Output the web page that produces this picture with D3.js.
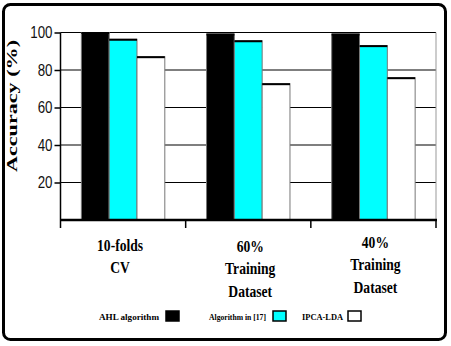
<!DOCTYPE html>
<html>
<head>
<meta charset="utf-8">
<script src="https://cdn.jsdelivr.net/npm/d3@7"></script>
<style>
  body { margin: 0; background: #fff; }
  svg { display: block; }
</style>
</head>
<body>
<div id="chart"></div>
<script>
// data
const categories = ['10-folds CV', '60% Training Dataset', '40% Training Dataset'];
const categoryLines = [['10-folds', 'CV'], ['60%', 'Training', 'Dataset'], ['40%', 'Training', 'Dataset']];
const seriesNames = ['AHL algorithm', 'Algorithm in [17]', 'IPCA-LDA'];
const seriesColors = ['#000000', '#00ffff', '#ffffff'];
const ahlValues = [100, 99.2, 99.2];
const alg17Values = [96.4, 95.6, 93];
const ipcaValues = [87.1, 72.7, 75.9];
const yTicks = [20, 40, 60, 80, 100];

const width = 451;
const height = 346;
const plot = { left: 60.5, right: 436, top: 32.5, bottom: 220 };
const squeeze = 0.8;

const svg = d3.select('#chart').append('svg')
  .attr('width', width)
  .attr('height', height);

// frame
svg.append('rect')
  .attr('x', 3.5).attr('y', 4.5)
  .attr('width', 442).attr('height', 335)
  .attr('rx', 7)
  .attr('fill', '#fff')
  .attr('stroke', '#000')
  .attr('stroke-width', 3);

const x = d3.scaleBand()
  .domain(categories)
  .range([plot.left, plot.right]);

const xSub = d3.scaleBand()
  .domain(seriesNames)
  .range([0, x.bandwidth()])
  .paddingInner(0)
  .paddingOuter(0.75);

const y = d3.scaleLinear()
  .domain([0, 100])
  .range([plot.bottom, plot.top]);

const rows = categories.map((c, i) => ({
  category: c,
  values: [ahlValues[i], alg17Values[i], ipcaValues[i]]
}));

// grid
svg.append('g')
  .selectAll('line')
  .data(yTicks)
  .enter().append('line')
    .attr('x1', plot.left).attr('x2', plot.right)
    .attr('y1', d => y(d)).attr('y2', d => y(d))
    .attr('stroke', '#000')
    .attr('stroke-width', 1.2);

// right border of plot
svg.append('line')
  .attr('x1', plot.right).attr('x2', plot.right)
  .attr('y1', plot.top).attr('y2', plot.bottom)
  .attr('stroke', '#999');

// bars
const groups = svg.selectAll('.group')
  .data(rows)
  .enter().append('g')
    .attr('class', 'group')
    .attr('transform', d => `translate(${x(d.category)},0)`);

groups.selectAll('rect')
  .data(d => d.values.map((v, i) => ({ name: seriesNames[i], value: v, color: seriesColors[i] })))
  .enter().append('rect')
    .attr('x', d => xSub(d.name))
    .attr('y', d => y(d.value))
    .attr('width', xSub.bandwidth())
    .attr('height', d => y(0) - y(d.value))
    .attr('fill', d => d.color)
    .attr('stroke', '#777')
    .attr('stroke-width', 1);

groups.selectAll('.top')
  .data(d => d.values.map((v, i) => ({ name: seriesNames[i], value: v })))
  .enter().append('line')
    .attr('class', 'top')
    .attr('x1', d => xSub(d.name))
    .attr('x2', d => xSub(d.name) + xSub.bandwidth())
    .attr('y1', d => y(d.value) + 0.5)
    .attr('y2', d => y(d.value) + 0.5)
    .attr('stroke', '#000')
    .attr('stroke-width', 2);

// y axis
const yAxis = svg.append('g')
  .attr('transform', `translate(${plot.left},0)`)
  .call(d3.axisLeft(y).tickValues(yTicks).tickSize(6).tickSizeOuter(0).tickPadding(2));
yAxis.select('.domain').remove();
yAxis.selectAll('.tick line').attr('stroke', '#000').attr('stroke-width', 1.5);
yAxis.selectAll('.tick text')
  .attr('font-family', '"Liberation Sans", sans-serif')
  .attr('font-size', 16)
  .attr('fill', '#111')
  .attr('textLength', d => String(d).length * 7.4)
  .attr('lengthAdjust', 'spacingAndGlyphs');

svg.append('line')
  .attr('x1', plot.left).attr('x2', plot.left)
  .attr('y1', plot.top).attr('y2', plot.bottom + 8)
  .attr('stroke', '#000')
  .attr('stroke-width', 1.5);

// x axis
svg.append('line')
  .attr('x1', plot.left).attr('x2', plot.right + 1)
  .attr('y1', plot.bottom).attr('y2', plot.bottom)
  .attr('stroke', '#000')
  .attr('stroke-width', 2.5);

const seps = categories.map(c => x(c)).concat([x(categories[categories.length - 1]) + x.bandwidth()]);
svg.append('g')
  .selectAll('line')
  .data(seps.slice(1))
  .enter().append('line')
    .attr('x1', d => d).attr('x2', d => d)
    .attr('y1', plot.bottom).attr('y2', plot.bottom + 8)
    .attr('stroke', '#000')
    .attr('stroke-width', 1.5);

const labelTop = [251, 252, 248];
const labelShift = [-3, 2, 2];
svg.append('g')
  .attr('transform', `scale(${squeeze},1)`)
  .selectAll('text')
  .data(categories)
  .enter().append('text')
    .attr('y', (d, i) => labelTop[i])
    .attr('text-anchor', 'middle')
    .attr('font-family', '"Liberation Serif", serif')
    .attr('font-weight', 'bold')
    .attr('font-size', 17)
    .each(function(d, i) {
      const cx = (x(d) + x.bandwidth() / 2 + labelShift[i]) / squeeze;
      d3.select(this).selectAll('tspan')
        .data(categoryLines[i])
        .enter().append('tspan')
          .attr('x', cx)
          .attr('dy', (t, j) => j === 0 ? 0 : 22.5)
          .text(t => t);
    });

// y title
svg.append('text')
  .attr('transform', `translate(17,106) rotate(-90)`)
  .attr('text-anchor', 'middle')
  .attr('font-family', '"Liberation Serif", serif')
  .attr('font-weight', 'bold')
  .attr('font-size', 15)
  .attr('textLength', 132)
  .attr('lengthAdjust', 'spacingAndGlyphs')
  .text('Accuracy (%)');

// legend
const legendText = [99, 209, 302];
const legendBox = [166, 273, 348];
const legendTextLen = [60, 57, 41];
const legend = svg.append('g');
legend.selectAll('text')
  .data(seriesNames)
  .enter().append('text')
    .attr('x', (d, i) => legendText[i])
    .attr('y', 320)
    .attr('font-family', '"Liberation Serif", serif')
    .attr('font-weight', 'bold')
    .attr('font-size', 9)
    .attr('textLength', (d, i) => legendTextLen[i])
    .attr('lengthAdjust', 'spacingAndGlyphs')
    .text(d => d);
legend.selectAll('rect')
  .data(seriesNames)
  .enter().append('rect')
    .attr('x', (d, i) => legendBox[i])
    .attr('y', 311)
    .attr('width', 13)
    .attr('height', 10)
    .attr('fill', (d, i) => seriesColors[i])
    .attr('stroke', '#000')
    .attr('stroke-width', 1.5);
</script>
</body>
</html>
